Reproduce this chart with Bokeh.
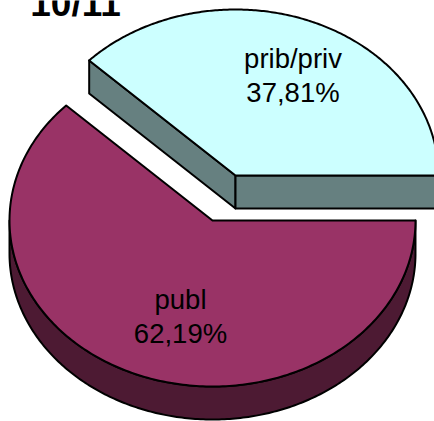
import numpy as np
from bokeh.plotting import figure
from bokeh.embed import file_html
from bokeh.resources import INLINE
from bokeh.core.properties import value

title = "10/11"
categories = ["publ", "prib/priv"]
shares = [62.19, 37.81]
share_labels = ["62,19%", "37,81%"]

W, H = 434, 421
RX, RY, DEPTH = 203, 166, 33
C_PUBL = (212, 220)
C_PRIV = (235, 175)
TOP = {"publ": "#993366", "prib/priv": "#CCFFFF"}
SIDE = {"publ": "#4D1A33", "prib/priv": "#668080"}
INK = "#000000"

split = 2 * np.pi * shares[0] / sum(shares)

def arc(c, a0, a1, dy=0, n=240):
    t = np.linspace(a0, a1, n)
    return c[0] + RX * np.cos(t), c[1] + RY * np.sin(t) + dy

p = figure(width=W, height=H, x_range=(0, W), y_range=(H, 0), toolbar_location=None,
           output_backend="svg", min_border=0)
p.axis.visible = False
p.grid.visible = False
p.outline_line_color = None
p.background_fill_color = "white"

def poly(xs, ys, color):
    p.patch(list(xs), list(ys), fill_color=color, line_color=INK, line_width=2, line_join="round")

# publ: rim (lower half only is visible), then top face
x0, y0 = arc(C_PUBL, 0, np.pi)
x1, y1 = arc(C_PUBL, np.pi, 0, DEPTH)
poly(np.r_[x0, x1], np.r_[y0, y1], SIDE["publ"])
x, y = arc(C_PUBL, 0, split)
poly(np.r_[C_PUBL[0], x], np.r_[C_PUBL[1], y], TOP["publ"])

# prib/priv: two cut faces, then top face
x, y = arc(C_PRIV, split, 2 * np.pi)
cx, cy = C_PRIV
poly([cx, x[0], x[0], cx], [cy, y[0], y[0] + DEPTH, cy + DEPTH], SIDE["prib/priv"])
poly([cx, x[-1], x[-1], cx], [cy, y[-1], y[-1] + DEPTH, cy + DEPTH], SIDE["prib/priv"])
poly(np.r_[cx, x], np.r_[cy, y], TOP["prib/priv"])

FONT = value("Liberation Sans")
lab_x = [180, 292.5]
lab_name_y = [299, 58]
lab_val_y = [333, 91.5]
for i in range(2):
    p.text([lab_x[i]], [lab_name_y[i]], text=[categories[i]], text_font=FONT, text_font_size="27.5px",
           text_align="center", text_baseline="alphabetic", text_color="#000000")
    p.text([lab_x[i]], [lab_val_y[i]], text=[share_labels[i]], text_font=FONT, text_font_size="27.5px",
           text_align="center", text_baseline="alphabetic", text_color="#000000")

p.text([75], [3], text=[title], text_font=FONT, text_font_size="37px", text_font_style="bold",
       text_align="center", text_baseline="alphabetic", text_color="#000000")

open("out.html", "w").write(file_html(p, INLINE))
